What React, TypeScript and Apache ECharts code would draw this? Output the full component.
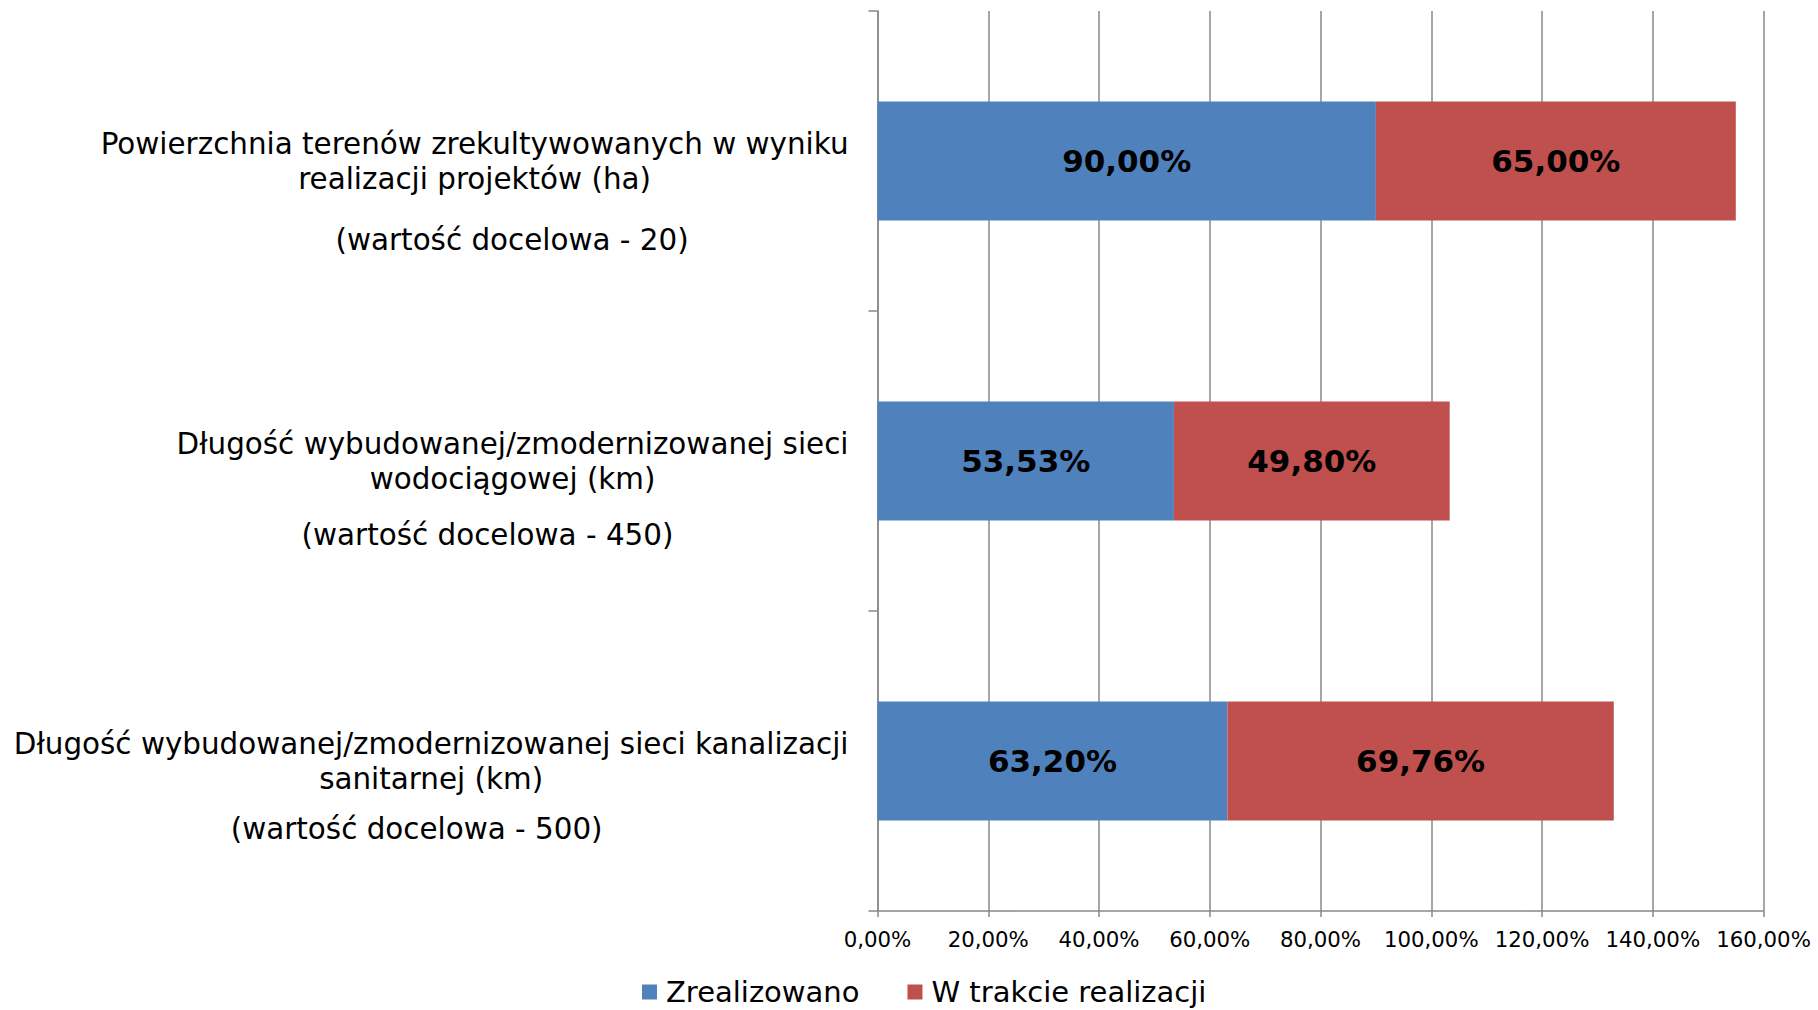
import React, { useEffect, useRef } from "react";
import * as echarts from "echarts";

const categories = [
  "Powierzchnia terenów zrekultywowanych w wyniku\nrealizacji projektów (ha)",
  "Długość wybudowanej/zmodernizowanej sieci\nwodociągowej (km)",
  "Długość wybudowanej/zmodernizowanej sieci kanalizacji\nsanitarnej (km)",
];
const targetValues = [20, 450, 500];
const seriesNames = ["Zrealizowano", "W trakcie realizacji"];
const zrealizowano = [90.0, 53.53, 63.2];
const wTrakcie = [65.0, 49.8, 69.76];
const xMin = 0;
const xMax = 160;
const xInterval = 20;

const FONT = "DejaVu Sans";
const GRAY = "#888888";
const fmtPct = (v: number) => v.toFixed(2).replace(".", ",") + "%";

// third-line spacing and horizontal shift (padding) per category (px)
const thirdLineHeights = [87, 77, 65];
const thirdLinePadding = [
  [0, 0, 0, 75],
  [0, 50, 0, 0],
  [0, 29, 0, 0],
];

export default function App() {
  const ref = useRef<HTMLDivElement>(null);
  useEffect(() => {
    document.body.style.margin = "0";
    const chart = echarts.init(ref.current!, null, { renderer: "svg" });
    const base = { fontFamily: FONT, fontSize: 29.4, align: "center", color: "#000" };
    const rich: any = {
      a: { ...base, lineHeight: 35 },
    };
    thirdLineHeights.forEach((h, i) => {
      rich["p" + i] = { ...base, lineHeight: h };
      rich["c" + i] = { ...base, lineHeight: h, padding: thirdLinePadding[i] };
    });
    const barLabel = {
      show: true,
      position: "inside",
      formatter: (p: any) => fmtPct(p.value),
      fontFamily: FONT,
      fontWeight: "bold",
      fontSize: 31,
      color: "#000",
    };
    const option: any = {
      animation: false,
      backgroundColor: "#ffffff",
      grid: {
        left: 877.5,
        right: 54.5,
        top: 11,
        bottom: 99,
        containLabel: false,
        outerBoundsMode: "none",
      },
      legend: {
        data: seriesNames,
        icon: "rect",
        itemWidth: 15,
        itemHeight: 15,
        itemGap: 48,
        padding: 0,
        left: 642,
        top: 977,
        textStyle: {
          fontFamily: FONT,
          fontSize: 29,
          lineHeight: 30,
          color: "#000",
          padding: [0, 0, 0, 4],
        },
      },
      xAxis: {
        type: "value",
        min: xMin,
        max: xMax,
        interval: xInterval,
        axisLine: { show: true, lineStyle: { color: GRAY, width: 1.5 } },
        axisTick: { show: true, length: 6, lineStyle: { color: GRAY, width: 1.5 } },
        splitLine: { show: true, lineStyle: { color: GRAY, width: 1.5 } },
        axisLabel: {
          formatter: (v: number) => fmtPct(v),
          fontFamily: FONT,
          fontSize: 21.3,
          color: "#000",
          margin: 18,
        },
      },
      yAxis: {
        type: "category",
        inverse: true,
        data: categories,
        axisLine: { show: true, lineStyle: { color: GRAY, width: 1.5 } },
        axisTick: { show: true, length: 9, lineStyle: { color: GRAY, width: 1.5 } },
        splitLine: { show: false },
        axisLabel: {
          interval: 0,
          margin: 29,
          formatter: (value: string, index: number) => {
            const [l1, l2] = value.split("\n");
            return `{p${index}| }\n{a|${l1}}\n{a|${l2}}\n{c${index}|(wartość docelowa - ${targetValues[index]})}`;
          },
          rich,
        },
      },
      series: [
        {
          name: seriesNames[0],
          type: "bar",
          stack: "total",
          barWidth: 119,
          data: zrealizowano,
          itemStyle: { color: "#4F81BD" },
          label: barLabel,
        },
        {
          name: seriesNames[1],
          type: "bar",
          stack: "total",
          barWidth: 119,
          data: wTrakcie,
          itemStyle: { color: "#C0504D" },
          label: barLabel,
        },
      ],
    };
    chart.setOption(option);
    return () => chart.dispose();
  }, []);
  return <div ref={ref} style={{ width: 1818, height: 1010 }} />;
}
